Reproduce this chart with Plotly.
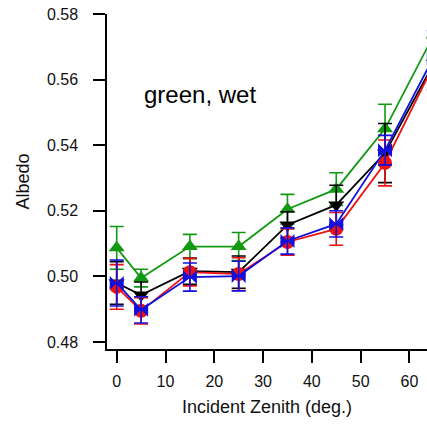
import plotly.graph_objects as go

zenith = [0, 5, 15, 25, 35, 45, 55, 65]

green = [0.5087, 0.4995, 0.5091, 0.5091, 0.5205, 0.5266, 0.5450, 0.5736]
green_err = [0.0065, 0.0027, 0.0037, 0.0043, 0.0045, 0.0050, 0.0075, 0.0080]

black = [0.4980, 0.4943, 0.5016, 0.5013, 0.5157, 0.5218, 0.5376, 0.5650]
black_err = [0.0065, 0.0040, 0.0040, 0.0049, 0.0040, 0.0060, 0.0090, 0.0080]

red = [0.4968, 0.4895, 0.5013, 0.5007, 0.5105, 0.5145, 0.5346, 0.5646]
red_err = [0.0068, 0.0040, 0.0042, 0.0050, 0.0040, 0.0050, 0.0070, 0.0080]

blue = [0.4980, 0.4898, 0.4998, 0.5001, 0.5108, 0.5160, 0.5385, 0.5669]
blue_err = [0.0070, 0.0040, 0.0043, 0.0045, 0.0040, 0.0040, 0.0045, 0.0080]

series = [
    ("green", green, green_err, "#119911", "triangle-up"),
    ("black", black, black_err, "#000000", "triangle-down"),
    ("red", red, red_err, "#ee1111", "circle"),
    ("blue", blue, blue_err, "#1111dd", "bowtie"),
]

fig = go.Figure()
for name, vals, errs, col, sym in series:
    fig.add_trace(go.Scatter(
        x=zenith, y=vals, name=name, mode="lines+markers",
        line=dict(color=col, width=1.8),
        marker=dict(color=col, symbol=sym, size=14, line=dict(width=0)),
        error_y=dict(type="data", array=errs, visible=True, color=col,
                     thickness=1.6, width=7),
        cliponaxis=True,
    ))

fig.add_annotation(x=5.2, y=0.5555, xref="x", yref="y", text="green, wet",
                   showarrow=False, xanchor="left", yanchor="middle",
                   font=dict(family="Liberation Sans, Arial", size=24, color="#000"))

axis_font = dict(family="Liberation Sans, Arial", size=16, color="#111")
title_font = dict(family="Liberation Sans, Arial", size=18, color="#111")
fig.update_layout(
    width=427, height=424,
    margin=dict(l=107, r=0, t=14, b=75),
    paper_bgcolor="white", plot_bgcolor="white",
    showlegend=False,
    xaxis=dict(range=[-1.99, 63.6], tickvals=[0, 10, 20, 30, 40, 50, 60],
               showline=True, linecolor="black", linewidth=1.5,
               ticks="outside", ticklen=12, tickwidth=1.5, tickcolor="black",
               ticklabelstandoff=5,
               showgrid=False, zeroline=False, tickfont=axis_font,
               title=dict(text="Incident Zenith (deg.)", font=title_font, standoff=11)),
    yaxis=dict(range=[0.47787, 0.58], tickvals=[0.48, 0.50, 0.52, 0.54, 0.56, 0.58],
               tickformat=".2f",
               showline=True, linecolor="black", linewidth=1.5,
               ticks="outside", ticklen=12, tickwidth=1.5, tickcolor="black",
               ticklabelstandoff=12,
               showgrid=False, zeroline=False, tickfont=axis_font,
               title=dict(text="Albedo", font=title_font, standoff=13)),
)

fig.write_html("out.html")
